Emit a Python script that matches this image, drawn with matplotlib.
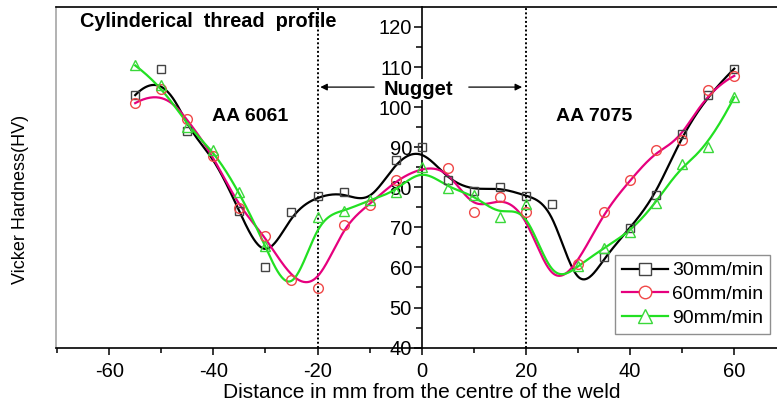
import numpy as np
import matplotlib
matplotlib.use("Agg")
import matplotlib.pyplot as plt
from matplotlib.lines import Line2D

plt.rcParams['font.family'] = ['Liberation Sans', 'DejaVu Sans']
plt.rcParams['axes.unicode_minus'] = False

# --- data ---
dist = [-55, -50, -45, -40, -35, -30, -25, -20, -15, -10, -5, 0,
        5, 10, 15, 20, 25, 30, 35, 40, 45, 50, 55, 60]
hv_30 = [103, 109.6, 94, 88, 74, 60, 73.8, 77.8, 78.8, 75.5, 86.7, 90,
         81.8, 79.2, 80, 77.9, 75.9, 52, 62.5, 69.8, 78.1, 93.4, 103.1, 109.6]
hv_60 = [101, 104.6, 97.1, 87.8, 74.8, 67.8, 56.8, 54.8, 70.7, 75.7, 81.7, 85,
         84.8, 73.8, 77.7, 73.8, 54.5, 60.9, 73.9, 81.7, 89.2, 91.7, 104.4, 107.8]
hv_90 = [110.4, 105.5, 95, 89.2, 78.8, 65.4, 50.5, 72.6, 74, 76.8, 78.9, 85,
         79.8, 78.2, 72.7, 75.8, 55.5, 60.3, 64.9, 68.9, 76.1, 85.9, 90, 102.5]
# points whose symbols are not visible in the reference
hidden_30 = [-40, -10, 30]
hidden_60 = [0, 25]
hidden_90 = [-25, 25]
labels = ["30mm/min", "60mm/min", "90mm/min"]


def bspline(px, py, k=3, num=800):
    """clamped uniform B-spline using the points as control points (Origin style)"""
    px = np.asarray(px, float)
    py = np.asarray(py, float)
    n = len(px)
    t = np.concatenate([np.zeros(k), np.arange(n - k + 1), np.full(k, n - k)]).astype(float)
    u = np.linspace(0, n - k - 1e-9, num)
    B = np.zeros((num, len(t) - 1))
    for i in range(len(t) - 1):
        B[:, i] = (t[i] <= u) & (u < t[i + 1])
    for d in range(1, k + 1):
        Bn = np.zeros((num, len(t) - 1 - d))
        for i in range(len(t) - 1 - d):
            a = np.zeros(num)
            d1 = t[i + d] - t[i]
            if d1 > 0:
                a += (u - t[i]) / d1 * B[:, i]
            d2 = t[i + d + 1] - t[i + 1]
            if d2 > 0:
                a += (t[i + d + 1] - u) / d2 * B[:, i + 1]
            Bn[:, i] = a
        B = Bn
    return B @ px, B @ py


fig = plt.figure(figsize=(7.77, 4.08), dpi=100)
ax = fig.add_axes([0.0721, 0.148, 0.9279, 0.835])

styles = [
    (hv_30, hidden_30, '#000000', 's', '#444444', 6.0),
    (hv_60, hidden_60, '#e6007e', 'o', '#f04848', 7.0),
    (hv_90, hidden_90, '#22e022', '^', '#3ad83a', 7.5),
]
handles = []
for (vals, hidden, lc, mk, mc, ms), lab in zip(styles, labels):
    bx, by = bspline(dist, vals)
    ax.plot(bx, by, color=lc, lw=1.6, zorder=3)
    xs = [x for x in dist if x not in hidden]
    ys = [v for x, v in zip(dist, vals) if x not in hidden]
    ax.plot(xs, ys, ls='none', marker=mk, ms=ms, mfc='none', mec=mc, mew=1.0, zorder=4)
    handles.append(Line2D([], [], color=lc, lw=1.6, marker=mk, ms=ms + 2,
                          mfc='white', mec=mc, mew=1.0))

ax.set_xlim(-70.2, 68.2)
ax.set_ylim(40, 125)

# y axis sits at x = 0
ax.spines['left'].set_position(('data', 0))
ax.spines['left'].set_linewidth(1.2)
ax.spines['right'].set_visible(False)
ax.spines['top'].set_linewidth(1.2)
ax.spines['bottom'].set_linewidth(1.2)
ax.plot([0, 0], [0, 1], transform=ax.transAxes, color='0.65', lw=1.2, clip_on=False)

ax.set_xticks([-60, -40, -20, 0, 20, 40, 60])
ax.set_xticks([-70, -50, -30, -10, 10, 30, 50], minor=True)
ax.set_yticks([40, 50, 60, 70, 80, 90, 100, 110, 120])
ax.set_yticks([45, 55, 65, 75, 85, 95, 105, 115], minor=True)
ax.tick_params(axis='x', which='major', direction='out', length=5, width=1.1,
               labelsize=14.5, pad=5)
ax.tick_params(axis='x', which='minor', direction='out', length=3.5, width=1.1)
ax.tick_params(axis='y', which='major', direction='out', length=6, width=1.1,
               labelsize=14.5, pad=1)
ax.tick_params(axis='y', which='minor', direction='out', length=4, width=1.1)

# nugget boundaries
for xv in (-20, 20):
    ax.plot([xv, xv], [40, 125], color='black', ls=(0, (1, 1.2)), lw=1.4, zorder=2)

ax.annotate('', xy=(-20, 105), xytext=(-8.6, 105),
            arrowprops=dict(arrowstyle='-|>', color='black', lw=0.9, mutation_scale=10))
ax.annotate('', xy=(19.8, 105), xytext=(8.5, 105),
            arrowprops=dict(arrowstyle='-|>', color='black', lw=0.9, mutation_scale=10))
ax.text(-0.6, 104.4, 'Nugget', ha='center', va='center', fontsize=14.5, fontweight='bold',
        bbox=dict(facecolor='white', edgecolor='none', pad=0.5), zorder=5)

ax.text(-65.6, 121.3, 'Cylinderical  thread  profile', ha='left', va='center',
        fontsize=14.3, fontweight='bold')
ax.text(-33, 97.7, 'AA 6061', ha='center', va='center', fontsize=14, fontweight='bold')
ax.text(33.1, 97.7, 'AA 7075', ha='center', va='center', fontsize=14, fontweight='bold')

leg = ax.legend(handles, labels, loc='upper left', bbox_to_anchor=(0.775, 0.272),
                fontsize=14, frameon=True, fancybox=False, handlelength=2.4,
                handletextpad=0.2, labelspacing=0.32, borderpad=0.35, borderaxespad=0)
leg.get_frame().set_edgecolor('0.45')
leg.get_frame().set_linewidth(1.0)

fig.text(0.543, 0.038, 'Distance in mm from the centre of the weld', ha='center',
         va='center', fontsize=15)
fig.text(0.027, 0.51, 'Vicker Hardness(HV)', ha='center', va='center',
         rotation=90, fontsize=13)

fig.savefig('out.png', dpi=100)
